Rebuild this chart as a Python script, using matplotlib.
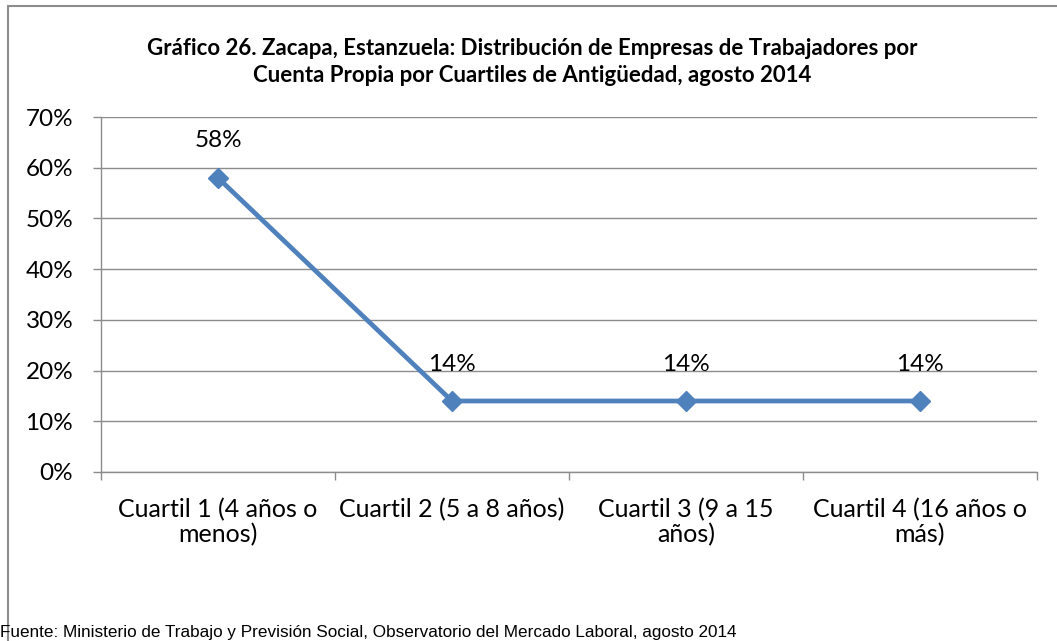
import matplotlib.pyplot as plt
from matplotlib.patches import Rectangle
from matplotlib.ticker import FixedLocator, PercentFormatter

# data
categories = ['Cuartil 1 (4 años o\nmenos)', 'Cuartil 2 (5 a 8 años)',
              'Cuartil 3 (9 a 15\naños)', 'Cuartil 4 (16 años o\nmás)']
values = [58, 14, 14, 14]
y_ticks = [0, 10, 20, 30, 40, 50, 60, 70]

title = ('Gráfico 26. Zacapa, Estanzuela: Distribución de Empresas de Trabajadores por\n'
         'Cuenta Propia por Cuartiles de Antigüedad, agosto 2014')
source = 'Fuente: Ministerio de Trabajo y Previsión Social, Observatorio del Mercado Laboral, agosto 2014'

plt.rcParams['font.family'] = ['Lato', 'DejaVu Sans']

W, H = 1057, 641
fig = plt.figure(figsize=(W / 100, H / 100), dpi=100)

# outer chart frame (only left and top edges are visible in the reference)
fig.add_artist(Rectangle((8 / W, -0.1), 1.2, 1 - 6 / H + 0.1, transform=fig.transFigure,
                         fill=False, edgecolor='#8c8c8c', linewidth=1.5))

ax = fig.add_axes([101 / W, 1 - 472 / H, (1037 - 101) / W, (472 - 117) / H])

x = list(range(len(categories)))
ax.plot(x, values, color='#4f81bd', linewidth=3.4, marker='D', markersize=10.5,
        zorder=3, clip_on=False)

for xi, v in zip(x, values):
    ax.annotate(f'{v}%', (xi, v), xytext=(0, 19), textcoords='offset points',
                ha='center', va='bottom', fontsize=17.5, color='#000000')

ax.set_xlim(-0.5, len(categories) - 0.5)
ax.set_ylim(0, 70)
ax.yaxis.set_major_locator(FixedLocator(y_ticks))
ax.yaxis.set_major_formatter(PercentFormatter(decimals=0))
ax.grid(axis='y', color='#8c8c8c', linewidth=1)
ax.set_axisbelow(True)

ax.set_xticks(x)
ax.set_xticklabels(categories, fontsize=18, linespacing=1.05)
ax.tick_params(axis='x', which='major', length=0, pad=19)
ax.set_xticks([i - 0.5 for i in range(len(categories) + 1)], minor=True)
ax.tick_params(axis='x', which='minor', length=6, color='#8c8c8c', width=1)
ax.tick_params(axis='y', length=6, color='#8c8c8c', width=1, labelsize=17.5, pad=14)

for s in ['top', 'right']:
    ax.spines[s].set_visible(False)
for s in ['left', 'bottom']:
    ax.spines[s].set_color('#8c8c8c')
    ax.spines[s].set_linewidth(1)

fig.text(532 / W, 1 - 62 / H, title, ha='center', va='center',
         fontsize=16, fontweight='bold', linespacing=1.35)
fig.text(0, 1 - 632 / H, source, ha='left', va='center', fontsize=12.3,
         family=['Liberation Sans Narrow', 'Liberation Sans'])

fig.savefig('out.png', dpi=100)
